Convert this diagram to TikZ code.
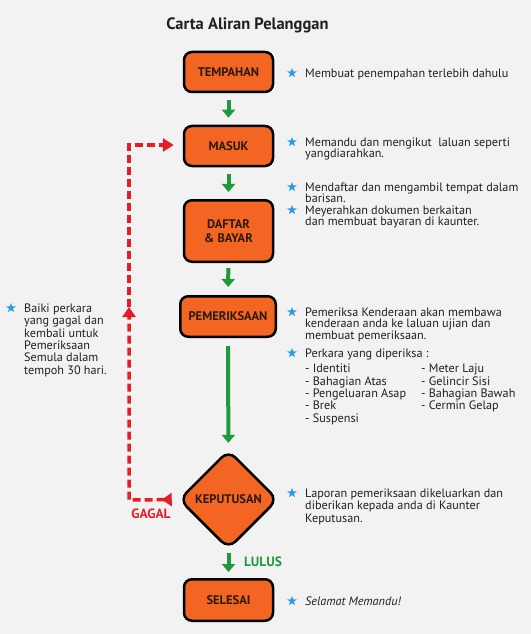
\documentclass[tikz,border=0pt]{standalone}
\usepackage{fontspec}
\setmainfont{PT Sans}
\usetikzlibrary{arrows.meta,shapes.geometric}
\definecolor{bg}{HTML}{F2F2F2}
\definecolor{boxfill}{HTML}{F26522}
\definecolor{boxtext}{HTML}{2B1A10}
\definecolor{grn}{HTML}{1E9A3C}
\definecolor{rd}{HTML}{E41E26}
\definecolor{starblue}{HTML}{2B9BE0}
\definecolor{txt}{HTML}{231F20}
\newcommand\fl{\rule{0pt}{9bp}}
\begin{document}
\begin{tikzpicture}[x=1bp,y=-1bp,
  stepbox/.style={draw=black, line width=2.5bp, fill=boxfill, rounded corners=8bp,
    minimum width=89bp, minimum height=40bp, inner sep=0pt,
    font=\bfseries\fontsize{12.5bp}{14.5bp}\selectfont, text=boxtext, align=center},
  decbox/.style={diamond, aspect=1, draw=black, line width=2.5bp, fill=boxfill,
    rounded corners=10bp, minimum size=99bp, inner sep=0pt,
    font=\bfseries\fontsize{12.5bp}{14.5bp}\selectfont, text=boxtext},
  garrow/.style={draw=grn, line width=4bp, -{Triangle[width=13bp,length=8bp]}},
  rdash/.style={draw=rd, line width=3.5bp, dash pattern=on 8bp off 4bp},
  bstar/.style={star, star points=5, star point ratio=2.4, fill=starblue, draw=none,
    minimum size=10bp, inner sep=0pt},
  desc/.style={anchor=north west, inner sep=0pt, align=left, text=txt,
    font=\fontsize{12.2bp}{11.5bp}\selectfont},
  desclist/.style={desc, font=\fontsize{12.2bp}{12.4bp}\selectfont},
  lbl/.style={font=\bfseries\fontsize{13.5bp}{15bp}\selectfont, inner sep=0pt}
]
\useasboundingbox (0,0) rectangle (531,634);
\fill[bg] (0,0) rectangle (531,634);

% title
\node[font=\bfseries\fontsize{16.5bp}{18bp}\selectfont, text=txt, inner sep=0pt] (title) at (247.5,25) {Carta Aliran Pelanggan};

% steps
\node[stepbox] (tempahan) at (228.5,72) {TEMPAHAN};
\node[stepbox] (masuk) at (228.5,146) {MASUK};
\node[stepbox, minimum height=61.5bp] (daftar) at (228.5,231) {DAFTAR\\\& BAYAR};
\node[stepbox, minimum width=95.5bp, minimum height=40.5bp] (periksa) at (228,316.5) {PEMERIKSAAN};
\node[decbox] (kep) at (228.5,499.5) {KEPUTUSAN};
\node[stepbox, minimum height=41.5bp] (selesai) at (228.5,600) {SELESAI};

% green arrows
\draw[garrow, shorten <=7bp, shorten >=7bp] (tempahan) -- (masuk);
\draw[garrow, shorten <=7bp, shorten >=7bp] (masuk) -- (daftar);
\draw[garrow, shorten <=5bp, shorten >=8bp] (daftar) -- (periksa);
\draw[garrow, shorten <=8bp, shorten >=6bp] (periksa) -- (kep);
\draw[garrow, shorten <=3bp, shorten >=6bp] (kep) -- (selesai);

% red return path
\coordinate (gbl) at (129,500);
\coordinate (gmid) at (129,307);
\coordinate (gtl) at (129,145);
\draw[rdash, {Triangle[reversed,width=13bp,length=10bp]}-{Triangle[width=13bp,length=10bp]}, shorten <=6bp]
  (kep.west) -- (gbl) -- (gmid);
\draw[rdash, -{Triangle[width=13bp,length=11bp]}, shorten >=9bp]
  (gmid) -- (gtl) -- (masuk.west |- gtl);

\node[lbl, text=rd] (gagal) at (151,514) {GAGAL};
\node[lbl, text=grn] (lulus) at (263,562) {LULUS};

% descriptions
\node[bstar] (s1) at (292,73) {};
\node[desc] (d1) at (305,68) {\fl Membuat penempahan terlebih dahulu};

\node[bstar] (s2) at (292,142) {};
\node[desc] (d2) at (305,137) {\fl Memandu dan mengikut\ \ laluan seperti\\yangdiarahkan.};

\node[bstar] (s3) at (292,187) {};
\node[desc] (d3) at (305,182) {\fl Mendaftar dan mengambil tempat dalam\\barisan.};
\node[bstar] (s4) at (292,210) {};
\node[desc] (d4) at (305,205) {\fl Meyerahkan dokumen berkaitan\\dan membuat bayaran di kaunter.};

\node[bstar] (s5) at (292,312) {};
\node[desc] (d5) at (305,307) {\fl Pemeriksa Kenderaan akan membawa\\kenderaan anda ke laluan ujian dan\\membuat pemeriksaan.};
\node[bstar] (s6) at (292,353) {};
\node[desc] (d6) at (305,348) {\fl Perkara yang diperiksa :};
\node[desclist] (l1) at (305,363.5) {\fl - Identiti\\- Bahagian Atas\\- Pengeluaran Asap\\- Brek\\- Suspensi};
\node[desclist] (l2) at (421,363.5) {\fl - Meter Laju\\- Gelincir Sisi\\- Bahagian Bawah\\- Cermin Gelap};

\node[bstar] (s7) at (11,308) {};
\node[desclist] (d7) at (24,303) {\fl Baiki perkara\\yang gagal dan\\kembali untuk\\Pemeriksaan\\Semula dalam\\tempoh 30 hari.};

\node[bstar] (s8) at (292,493) {};
\node[desclist] (d8) at (305,488) {\fl Laporan pemeriksaan dikeluarkan dan\\diberikan kepada anda di Kaunter\\Keputusan.};

\node[bstar] (s9) at (292,601) {};
\node[desc] (d9) at (305,596) {\fl\itshape Selamat Memandu!};
\end{tikzpicture}
\end{document}
